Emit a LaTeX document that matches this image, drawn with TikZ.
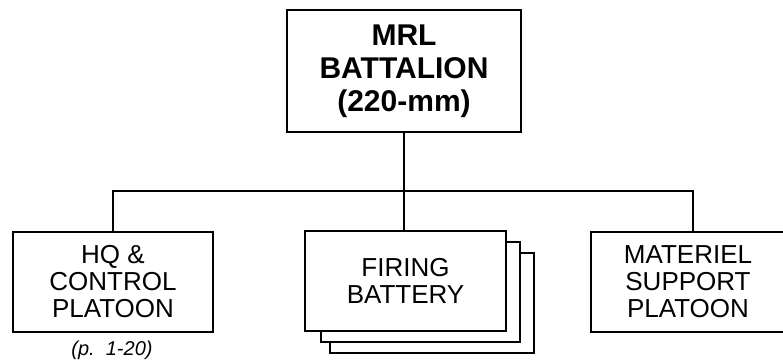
\documentclass[tikz,border=0pt]{standalone}
\usepackage{fontspec}
\setmainfont{Liberation Sans}
\begin{document}
\begin{tikzpicture}[x=1pt,y=-1pt,
  box/.style={draw=black,line width=1.8pt,fill=white,inner sep=0pt,align=center},
  unit/.style={box,minimum height=100pt,font=\fontsize{26}{27}\selectfont},
  link/.style={line width=1.8pt}]
\useasboundingbox[fill=white] (0,0) rectangle (783,361);
\begin{scope}
\clip (0,0) rectangle (783,361);
% top
\node[box,minimum width=234pt,minimum height=122pt,font=\bfseries\fontsize{30}{33}\selectfont] (top) at (404,71) {MRL\\BATTALION\\(220-mm)};
% firing battery stack
\node[box,minimum width=204pt,minimum height=100pt] (fb3) at (432,303) {};
\node[box,minimum width=199pt,minimum height=100pt] (fb2) at (420.5,292) {};
\node[unit,minimum width=201pt] (firing) at (405.5,281) {FIRING\\BATTERY};
\node[unit,minimum width=200pt] (hq) at (113,282) {HQ \&\\CONTROL\\PLATOON};
\node[unit,minimum width=194pt] (mat) at (688,282) {MATERIEL\\SUPPORT\\PLATOON};
\node[font=\itshape\fontsize{20}{22}\selectfont] (ref) at (112,350) {(p.\ \ 1-20)};
\coordinate (j) at (404,191);
\draw[link] (top.south) -- (j) -- (j |- firing.north);
\draw[link] (hq.north) |- (j) -| ([xshift=5pt]mat.north);
\end{scope}
\end{tikzpicture}
\end{document}
